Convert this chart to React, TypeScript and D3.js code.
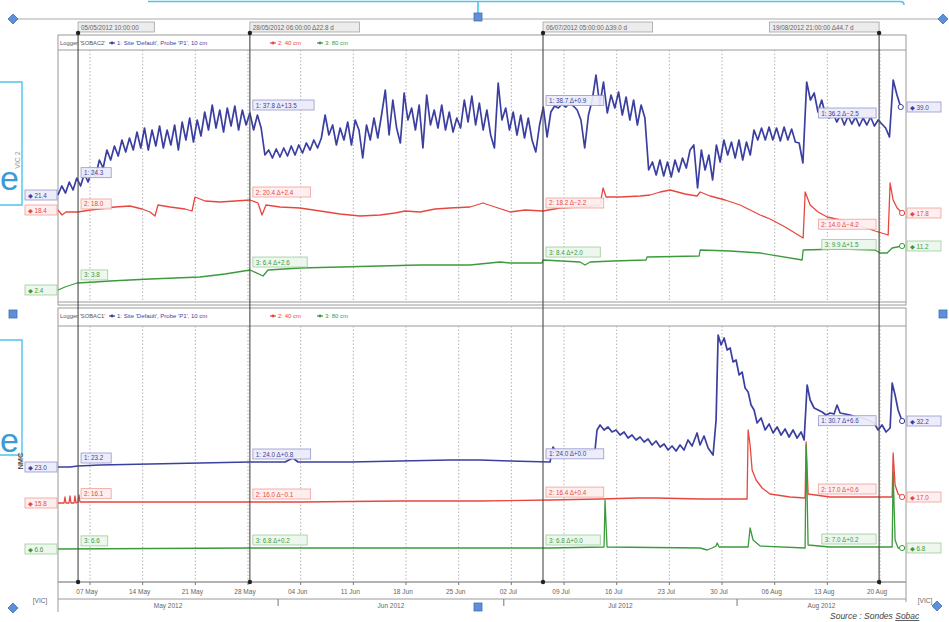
import React from "react";
import * as d3 from "d3";

// time is counted in days after 1 May 2012 00:00
const SEASON_START = new Date(2012, 4, 1);

const tickDays = [6, 13, 20, 27, 34, 41, 48, 55, 62, 69, 76, 83, 90, 97, 104, 111];
const tickLabels = ["07 May", "14 May", "21 May", "28 May", "04 Jun", "11 Jun", "18 Jun", "25 Jun",
  "02 Jul", "09 Jul", "16 Jul", "23 Jul", "30 Jul", "06 Aug", "13 Aug", "20 Aug"];
const monthDays = [0, 31, 61, 92];
const monthLabels = ["May 2012", "Jun 2012", "Jul 2012", "Aug 2012"];
const cursorDays = [4.4167, 27.25, 66.2083, 110.875];
const seriesNames = ["1: Site 'Default', Probe 'P1', 10 cm", "2: 40 cm", "3: 80 cm"];

// logger SOBAC2 : probe 1 sampled every 12 h from day 1.75
const topBlueStart = 1.75;
const topBlueStep = 0.5;
const topBlue = [
  21.4, 23.2, 21.8, 24, 22.4, 24.8, 23.2, 25.6, 24, 26.4,
  25.2, 28.4, 26.8, 30.4, 28.4, 31.2, 29.2, 32.4, 30, 32.8,
  30.4, 34, 30.8, 34.8, 30.4, 34.4, 31.2, 35.2, 30.8, 34.4,
  31.4, 35.4, 30.4, 36, 32.4, 36.8, 32, 36.4, 33.2, 38,
  34.4, 39.4, 34.8, 38.4, 34, 38.8, 35.2, 39.2, 34.4, 38.4,
  35.4, 37.8, 34.4, 37.4, 34.8, 29.4, 30.4, 28.8, 30.6, 29,
  30.8, 29.2, 31.2, 29.4, 31.4, 29.8, 31.8, 30.4, 32.4, 30.8,
  32.8, 37.4, 33.4, 35.4, 31.4, 34.8, 32.4, 36, 31.4, 36.4,
  34.4, 28.8, 35.4, 32.4, 36.8, 32.8, 37.4, 42.4, 33.4, 40.4,
  34.8, 31.8, 41.8, 36.4, 38.8, 34.4, 39.4, 30.8, 41.4, 35.4,
  38.4, 34.8, 39.4, 34.4, 38, 34, 36.8, 34.8, 40.4, 36,
  41.2, 35.4, 39.8, 34.4, 38.4, 33.4, 30.8, 43.8, 36.4, 38.8,
  34.4, 38, 33.4, 37.4, 32.8, 36.8, 32.4, 30, 35.4, 39,
  33, 38, 39.2, 38.8, 39.6, 39, 39.8, 39.2, 38.4, 36.4,
  30.8, 37.4, 40.4, 45.4, 39.4, 44, 37.8, 41.4, 38.8, 42,
  37.4, 41, 36.4, 40.4, 35.4, 39.4, 36.8, 26.4, 28, 25.4,
  28.4, 25.2, 28, 25, 28.4, 26, 28.8, 26.8, 30.4, 31.4,
  22.8, 30.4, 26.4, 29.4, 24.4, 31.4, 28, 32.4, 29.4, 32,
  28.8, 32.4, 28.4, 32, 29.4, 34.4, 32.4, 34.8, 32.4, 35,
  32.4, 34.8, 32.2, 35, 32.4, 34.6, 32, 31.8, 27.8, 44,
  40.4, 41.8, 38, 40.4, 37.4, 36.8, 37.8, 36, 37.4, 35.4,
  37.2, 35.6, 37, 35.2, 36.8, 35.4, 37, 35.2, 36.4, 35.6,
  34.8, 33, 44.4, 41.4, 39,
];
const topRed: [number, number][] = [
  [1.75, 18.4], [2.28, 17.4], [2.81, 18], [4.41, 18], [6, 18.4], [7.33, 18.6], [9.33, 19], [11.32, 19.2],
  [12.91, 18.6], [13.98, 18], [14.64, 17.2], [15.04, 19.4], [16.64, 19], [18.63, 18.6], [19.56, 18.2],
  [19.96, 21], [21.29, 20.2], [23.28, 20], [25.27, 20.2], [27.27, 20.4], [28.33, 19.8], [28.86, 17.4],
  [29.39, 19.4], [31.25, 19], [33.91, 18.8], [36.57, 18.2], [39.23, 17.6], [41.89, 17.2], [44.55, 17.4],
  [46.54, 17.8], [47.87, 18.2], [49.86, 18], [51.86, 18.6], [53.85, 18.8], [56.51, 19], [58.24, 19.8],
  [59.83, 19], [61.83, 18], [63.82, 18.4], [66.21, 18.2], [68.47, 18.8], [71.13, 19], [73.79, 19.4],
  [74.19, 22.8], [74.59, 21], [76.45, 21], [79.11, 21.2], [80.44, 21.4], [81.77, 22], [83.1, 22.4],
  [85.09, 21.6], [86.69, 21.2], [87.09, 22], [88.42, 21.2], [90.41, 20.4], [92.41, 19.4], [95.06, 17.4],
  [96.39, 16.6], [98.39, 15], [100.78, 12.8], [101.05, 22], [101.71, 19.4], [102.77, 18], [103.97, 17],
  [106.36, 16.2], [108.36, 15.2], [110.35, 14.2], [112.08, 13.4], [112.34, 23.8], [112.74, 20.4],
  [113.27, 18.8], [113.93, 17.8],
];
const topGreen: [number, number][] = [
  [1.75, 2.4], [2.68, 3], [4.28, 3.8], [6.67, 4], [8.66, 4.2], [13.98, 4.6], [20.62, 5], [23.95, 5.6],
  [27.27, 6.4], [29.0, 5.2], [29.66, 6.4], [33.91, 6.8], [39.23, 7], [44.55, 7.2], [49.86, 7.4],
  [56.51, 7.4], [60.5, 8], [61.83, 7.8], [66.08, 7.8], [66.21, 8.4], [71.13, 8], [71.79, 7.4], [72.46, 8],
  [75.52, 8.2], [79.9, 8.4], [80.04, 9], [86.96, 9.2], [87.09, 10.4], [91.08, 10.2], [95.06, 9.8],
  [100.65, 8.4], [100.78, 10.4], [105.7, 10.6], [110.35, 10.4], [111.01, 9.8], [111.94, 9.8],
  [112.61, 10.8], [113.27, 11], [113.93, 11.2],
];

// logger SOBAC1
const botBlue: [number, number][] = [
  [1.75, 23], [3.34, 23], [4.41, 23.2], [7.33, 23.4], [13.98, 23.6], [20.62, 23.8], [27.27, 24],
  [31.92, 24], [32.98, 24.8], [33.65, 24], [40.56, 24], [47.2, 24.2], [53.85, 24.4], [57.84, 24.4],
  [61.83, 24.2], [67.14, 24], [67.54, 27], [67.94, 26], [70.46, 26.2], [73.12, 26.4], [73.39, 30.4],
  [73.79, 31.4], [74.32, 30.4], [74.85, 31], [75.38, 30], [75.92, 30.4], [76.45, 29.4], [76.98, 30],
  [77.51, 28.8], [78.04, 29.4], [78.57, 28.4], [79.11, 29], [79.64, 28], [80.17, 28.6], [80.7, 27.4],
  [81.23, 28.2], [81.77, 27], [82.3, 27.6], [82.83, 26.4], [83.36, 27.2], [83.89, 26.2], [84.42, 27.4],
  [84.95, 26.4], [85.48, 28.4], [86.02, 27.2], [86.68, 29.8], [87.08, 27.4], [87.61, 29.2], [88.15, 26.8],
  [88.81, 25.4], [89.21, 32.4], [89.48, 49.4], [89.88, 47.4], [90.28, 48.8], [90.68, 46.4], [91.08, 46.8],
  [91.47, 44], [91.87, 44.4], [92.27, 41.4], [92.67, 42], [93.07, 38.8], [93.47, 38], [93.86, 35.4],
  [94.26, 34.4], [94.66, 31.8], [95.19, 32.8], [95.73, 30.4], [96.26, 31.6], [96.79, 29.8], [97.32, 31],
  [97.85, 29.4], [98.38, 30.6], [98.91, 29], [99.44, 30.4], [99.98, 28.8], [100.51, 30], [100.91, 28.4],
  [101.31, 39.4], [101.71, 36.4], [102.24, 34.8], [102.77, 34.4], [103.3, 34], [103.83, 33.4],
  [104.36, 33.8], [104.89, 33.6], [105.29, 35.4], [105.69, 33.8], [106.36, 33.6], [107.02, 33.4],
  [107.82, 33], [108.61, 32.8], [109.41, 32.4], [110.21, 31.8], [110.74, 30.4], [111.27, 31.4],
  [111.8, 30], [112.34, 30.8], [112.61, 39.8], [113.0, 37.4], [113.4, 34.4], [113.93, 32.2],
];
const botRed: [number, number][] = [
  [1.75, 15.8], [2.55, 15.8], [2.68, 17], [2.81, 15.8], [3.21, 15.8], [3.34, 17.2], [3.48, 15.8],
  [3.88, 15.8], [4.01, 17.2], [4.14, 15.8], [4.41, 16], [4.54, 17.4], [4.67, 16], [13.98, 16], [33.91, 16],
  [47.2, 16.2], [57.84, 16.2], [67.14, 16.4], [73.79, 16.6], [78.71, 16.8], [81.37, 16.8], [87.08, 16.6],
  [92.4, 16.6], [93.33, 16.6], [93.47, 30.4], [93.73, 27.4], [94.0, 22.4], [94.53, 20.4], [95.33, 18.8],
  [96.39, 17.6], [99.05, 17], [101.04, 16.8], [101.18, 28], [101.44, 17.6], [104.36, 17], [112.61, 17],
  [112.74, 25.8], [113.0, 19.4], [113.4, 17.6], [113.93, 17],
];
const botGreen: [number, number][] = [
  [1.75, 6.6], [27.27, 6.8], [33.91, 6.8], [57.84, 6.8], [67.14, 6.8], [74.32, 7], [74.45, 16.4],
  [74.72, 7], [87.08, 6.8], [88.02, 6.4], [88.68, 6.8], [89.21, 7.2], [89.35, 7.8], [89.62, 7],
  [93.47, 7], [93.73, 10.8], [94.13, 8.4], [95.06, 7.2], [101.04, 6.8], [101.18, 27.4], [101.44, 7.4],
  [104.36, 7], [112.61, 7], [112.74, 22], [113.0, 8.4], [113.4, 6.8], [113.93, 6.8],
];

const L = 58;
const R = 906;
const FONT = "'Liberation Sans', 'DejaVu Sans', Arial, sans-serif";
const STYLE = [
  { stroke: "#3b3f9f", fill: "#ececf8", border: "#9597cc", width: 1.7 },
  { stroke: "#e8473f", fill: "#fdeeed", border: "#ef9f9a", width: 1.3 },
  { stroke: "#3c9a3c", fill: "#ebf6eb", border: "#9ccc9c", width: 1.3 },
];

function valueAt(s: [number, number][], t: number) {
  const i = d3.bisector((d: [number, number]) => d[0]).left(s, t);
  if (i <= 0) return s[0][1];
  if (i >= s.length) return s[s.length - 1][1];
  const [t0, v0] = s[i - 1];
  const [t1, v1] = s[i];
  return v0 + ((v1 - v0) * (t - t0)) / (t1 - t0);
}

const fmtTime = d3.timeFormat("%d/%m/%Y %H:%M:%S");
const fmtDelta = d3.format("+.1f");
const dayToDate = (t: number) => d3.timeMinute.offset(SEASON_START, Math.round(t * 1440));

function Marker({ x, y, kind }: { x: number; y: number; kind: "square" | "diamond" }) {
  return kind === "square" ? (
    <rect x={x - 4} y={y - 4} width={8} height={8} fill="#5f8fd6" stroke="#3f6fb6" strokeWidth={0.8} />
  ) : (
    <path d={`M${x},${y - 5}L${x + 5},${y}L${x},${y + 5}L${x - 5},${y}Z`} fill="#5f8fd6" stroke="#3f6fb6" strokeWidth={0.8} />
  );
}

function Tag({ x, y, w, text, si }: { x: number; y: number; w: number; text: string; si: number }) {
  const st = STYLE[si];
  return (
    <g>
      <rect x={x} y={y} width={w} height={10} fill={st.fill} fillOpacity={0.92} stroke={st.border} strokeWidth={0.8} />
      <text x={x + 3} y={y + 7.5} fontSize={6.3} fill={st.stroke} fontFamily={FONT}>{text}</text>
    </g>
  );
}

export default function App() {
  const x = d3.scaleLinear().domain([1.75, 114.45]).range([L, R]);
  const topBluePts: [number, number][] = topBlue.map((v, i) => [topBlueStart + i * topBlueStep, v]);

  const panels = [
    {
      logger: "Logger 'SOBAC2'",
      bandTop: 35,
      plotTop: 50,
      plotBottom: 302,
      frameBottom: 305,
      y: d3.scaleLinear().domain([0, 50]).range([302, 52]),
      series: [topBluePts, topRed, topGreen],
    },
    {
      logger: "Logger 'SOBAC1'",
      bandTop: 308,
      plotTop: 326,
      plotBottom: 582,
      frameBottom: 582,
      y: d3.scaleLinear().domain([0, 50]).range([582, 332]),
      series: [botBlue, botRed, botGreen],
    },
  ];

  const cursorX = cursorDays.map((t) => x(t));
  const cursorText = cursorDays.map((t, i) => {
    const s = fmtTime(dayToDate(t));
    return i === 0 ? s : `${s}  Δ${(t - cursorDays[i - 1]).toFixed(1)} d`;
  });

  return (
    <svg width={949} height={622} style={{ position: "absolute", left: 0, top: 0, background: "#fff" }} fontFamily={FONT}>
      <rect width={949} height={622} fill="#fff" />

      {/* slide overlay bits */}
      <path d="M148,1.5H900Q904,1.5 904,5" fill="none" stroke="#4cc6e6" strokeWidth={1.6} />
      <line x1={478} x2={478} y1={1} y2={13} stroke="#4cc6e6" strokeWidth={1.6} />
      <path d="M0,82H22V205H0" fill="none" stroke="#4cc6e6" strokeWidth={1.4} />
      <path d="M0,340H22V455H0" fill="none" stroke="#4cc6e6" strokeWidth={1.4} />
      <text x={0} y={190} fontSize={34} fill="#3a9bd8" fontFamily={FONT}>e</text>
      <text x={0} y={452} fontSize={34} fill="#3a9bd8" fontFamily={FONT}>e</text>

      <line x1={13} x2={943} y1={19} y2={19} stroke="#a9a9a9" strokeWidth={1} />
      <Marker x={13} y={19} kind="diamond" />
      <Marker x={943} y={19} kind="diamond" />
      <Marker x={478} y={17} kind="square" />
      <Marker x={13} y={314} kind="square" />
      <Marker x={943} y={314} kind="square" />
      <Marker x={13} y={608} kind="diamond" />
      <Marker x={937} y={606} kind="diamond" />
      <Marker x={478} y={607} kind="square" />

      {/* cursor time labels */}
      {cursorText.map((s, i) => {
        const w = s.length * 3.7 + 6;
        const bx = i < cursorDays.length - 1 ? cursorX[i] : cursorX[i] - w;
        return (
          <g key={"ct" + i}>
            <rect x={bx} y={22} width={w} height={10} fill="#ececec" stroke="#a3a3a3" strokeWidth={0.8} />
            <text x={bx + 3} y={29.5} fontSize={6.3} fill="#666">{s}</text>
          </g>
        );
      })}

      {panels.map((p, pi) => {
        const line = d3.line<[number, number]>().x((d) => x(d[0])).y((d) => p.y(d[1]));
        return (
          <g key={"p" + pi}>
            <rect x={L} y={p.bandTop} width={R - L} height={p.frameBottom - p.bandTop} fill="none" stroke="#9a9a9a" strokeWidth={1} />
            <line x1={L} x2={R} y1={p.plotTop} y2={p.plotTop} stroke="#9a9a9a" />
            <line x1={L} x2={R} y1={p.plotBottom} y2={p.plotBottom} stroke="#9a9a9a" />
            {/* legend band */}
            <text x={L + 2} y={p.bandTop + 10} fontSize={5.8} fill="#555">{p.logger}</text>
            {[109, 270, 317].map((lx, si) => (
              <g key={"lg" + si}>
                <line x1={lx} x2={lx + 6} y1={p.bandTop + 8} y2={p.bandTop + 8} stroke={STYLE[si].stroke} strokeWidth={1.2} />
                <circle cx={lx + 3} cy={p.bandTop + 8} r={1.4} fill={STYLE[si].stroke} />
                <text x={lx + 8} y={p.bandTop + 10} fontSize={6} fill={STYLE[si].stroke}>{seriesNames[si]}</text>
              </g>
            ))}
            {/* weekly grid */}
            {tickDays.map((t) => (
              <line key={"g" + t} x1={x(t)} x2={x(t)} y1={p.plotTop} y2={p.plotBottom} stroke="#b3b3b3" strokeDasharray="1.5,2" strokeWidth={1} />
            ))}
            {/* series */}
            {p.series.map((s, si) => (
              <path key={"s" + si} d={line(s) || ""} fill="none" stroke={STYLE[si].stroke} strokeWidth={STYLE[si].width} strokeLinejoin="round" />
            ))}
            {p.series.map((s, si) => (
              <circle key={"e" + si} cx={x(s[s.length - 1][0])} cy={p.y(s[s.length - 1][1])} r={2.6} fill="#fff" stroke={STYLE[si].stroke} strokeWidth={1} />
            ))}
            {/* start / end value boxes */}
            {p.series.map((s, si) => {
              const v0 = s[0][1];
              const v1 = s[s.length - 1][1];
              return (
                <g key={"b" + si}>
                  <Tag x={25} y={p.y(v0) - 5} w={32} text={`◆ ${v0.toFixed(1)}`} si={si} />
                  <Tag x={907} y={p.y(v1) - 5} w={34} text={`◆ ${v1.toFixed(1)}`} si={si} />
                </g>
              );
            })}
            {/* cursor value tags */}
            {cursorDays.map((t, ci) =>
              p.series.map((s, si) => {
                const v = valueAt(s, t);
                const prev = ci > 0 ? valueAt(s, cursorDays[ci - 1]) : v;
                const text = ci === 0 ? `${si + 1}: ${v.toFixed(1)}` : `${si + 1}: ${v.toFixed(1)}   Δ${fmtDelta(v - prev)}`;
                const w = text.length * 3.45 + 6;
                const bx = ci < cursorDays.length - 1 ? cursorX[ci] + 3 : cursorX[ci] - 3 - w;
                return <Tag key={`c${ci}-${si}`} x={bx} y={p.y(v) - 13} w={w} text={text} si={si} />;
              })
            )}
          </g>
        );
      })}

      {/* axis labels */}
      <text transform="translate(20,160) rotate(-90)" fontSize={7} fill="#999" textAnchor="middle">VIC 2</text>
      <text transform="translate(23,461) rotate(-90)" fontSize={7.5} fontWeight="bold" fill="#555" textAnchor="middle">NMC</text>

      {/* time axis */}
      <line x1={L} x2={L} y1={582} y2={612} stroke="#9a9a9a" />
      <line x1={R} x2={R} y1={582} y2={602} stroke="#9a9a9a" />
      <line x1={L} x2={R} y1={599} y2={599} stroke="#9a9a9a" />
      {tickDays.map((t, i) => (
        <g key={"t" + t}>
          <line x1={x(t)} x2={x(t)} y1={582} y2={585} stroke="#777" />
          <text x={x(t) - 3} y={594} fontSize={6.5} fill="#666" textAnchor="middle">{tickLabels[i]}</text>
        </g>
      ))}
      {monthDays.map((t, i) => {
        const a = Math.max(t, x.domain()[0]);
        const b = i < monthDays.length - 1 ? monthDays[i + 1] : x.domain()[1];
        return (
          <g key={"m" + t}>
            {t > x.domain()[0] && <line x1={x(t)} x2={x(t)} y1={599} y2={606} stroke="#777" />}
            <text x={(x(a) + x(b)) / 2} y={608} fontSize={6.5} fill="#666" textAnchor="middle">{monthLabels[i]}</text>
          </g>
        );
      })}
      <text x={40} y={603} fontSize={6.5} fill="#666" textAnchor="middle">[VIC]</text>
      <text x={925} y={603} fontSize={6.5} fill="#666" textAnchor="middle">[VIC]</text>

      {/* cursors */}
      {cursorX.map((cx, i) => (
        <g key={"cur" + i}>
          <line x1={cx} x2={cx} y1={33} y2={582} stroke="#4a4a4a" strokeWidth={1.1} />
          <circle cx={cx} cy={33} r={2.2} fill="#222" />
          <circle cx={cx} cy={582} r={2.2} fill="#222" />
        </g>
      ))}

      <text x={830} y={619} fontSize={8.5} fontStyle="italic" fill="#444">
        Source : Sondes <tspan textDecoration="underline">Sobac</tspan>
      </text>
    </svg>
  );
}
